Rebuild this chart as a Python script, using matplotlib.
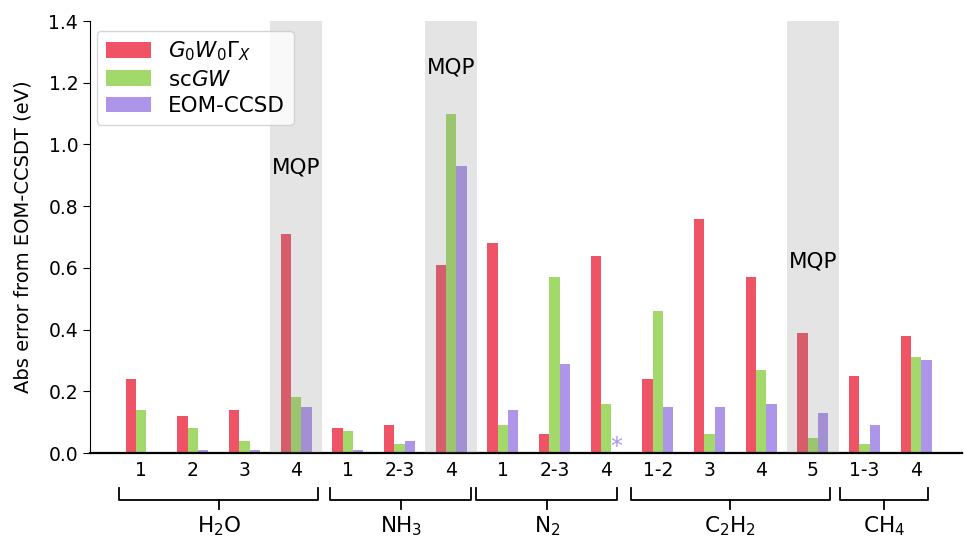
import matplotlib
matplotlib.use("Agg")
import matplotlib.pyplot as plt
import numpy as np
from matplotlib.transforms import blended_transform_factory

# ---- data ----
tick_labels = ["1", "2", "3", "4", "1", "2-3", "4", "1", "2-3", "4",
               "1-2", "3", "4", "5", "1-3", "4"]
g0w0 = [0.24, 0.12, 0.14, 0.71, 0.08, 0.09, 0.61, 0.68, 0.06, 0.64,
        0.24, 0.76, 0.57, 0.39, 0.25, 0.38]
scgw = [0.14, 0.08, 0.04, 0.18, 0.07, 0.03, 1.10, 0.09, 0.57, 0.16,
        0.46, 0.06, 0.27, 0.05, 0.03, 0.31]
eom = [0.0, 0.01, 0.01, 0.15, 0.01, 0.04, 0.93, 0.14, 0.29, np.nan,
       0.15, 0.15, 0.16, 0.13, 0.09, 0.30]
series_labels = [r"$G_0W_0\Gamma_X$", r"sc$GW$", "EOM-CCSD"]
molecules = [r"H$_2$O", r"NH$_3$", r"N$_2$", r"C$_2$H$_2$", r"CH$_4$"]
mqp_index = [3, 6, 13]
mqp_text_y = [0.925, 1.25, 0.62]
missing_marker_y = 0.018
# bracket layout (x-centre, width in group units)
bracket_center = [1.5, 5.02, 7.85, 11.4, 14.38]
bracket_width = [3.85, 2.72, 2.74, 3.85, 1.72]

colors = ["#ee5466", "#a3d86b", "#ad95ea"]

fig = plt.figure(figsize=(9.64, 5.42), dpi=100)
ax = fig.add_axes([0.0934, 0.1642, 0.9046, 0.797])

x = np.arange(len(tick_labels))
w = 0.2
for k, (vals, c, lab) in enumerate(zip([g0w0, scgw, eom], colors, series_labels)):
    ax.bar(x + (k - 1) * w, vals, width=w, color=c, label=lab, zorder=2)

# missing value marker
i_nan = int(np.where(np.isnan(eom))[0][0])
ax.text(i_nan + w, missing_marker_y, "*", color=colors[2], ha="center",
        va="center", fontsize=17, zorder=3)

for i, ty in zip(mqp_index, mqp_text_y):
    ax.axvspan(i - 0.5, i + 0.5, color="grey", alpha=0.21, lw=0, zorder=3)
    ax.text(i, ty, "MQP", ha="center", va="center", fontsize=15.5, zorder=4)

ax.set_xlim(-0.99, 15.89)
ax.set_ylim(0, 1.4)
ax.set_yticks(np.arange(0, 1.41, 0.2))
ax.set_yticklabels([f"{v:.1f}" for v in np.arange(0, 1.41, 0.2)], fontsize=13.5)
ax.set_xticks(x)
ax.set_xticklabels(tick_labels, fontsize=13.5)
ax.tick_params(axis="x", length=0, pad=6)
ax.tick_params(axis="y", length=5)
ax.set_ylabel("Abs error from EOM-CCSDT (eV)", fontsize=14)
ax.yaxis.set_label_coords(-0.066, 0.5)
ax.spines["top"].set_visible(False)
ax.spines["right"].set_visible(False)
ax.spines["bottom"].set_linewidth(1.6)

trans = blended_transform_factory(ax.transData, fig.transFigure)
def fy(py):
    return 1 - py / 542
for c, wd, name in zip(bracket_center, bracket_width, molecules):
    l, r = c - wd / 2, c + wd / 2
    kw = dict(color="black", lw=1.3, transform=trans, clip_on=False)
    ax.plot([l, l, r, r], [fy(488), fy(500), fy(500), fy(488)], **kw)
    ax.plot([c, c], [fy(500), fy(509)], **kw)
    ax.text(c, fy(526), name, transform=trans, ha="center", va="center", fontsize=15.5)

leg = ax.legend(loc="upper left", fontsize=15.5, handlelength=2.1,
                handleheight=0.75, borderpad=0.4, labelspacing=0.3,
                handletextpad=0.8, borderaxespad=0.0,
                bbox_to_anchor=(0.008, 0.977))
leg.set_zorder(10)

fig.savefig("out.png", dpi=100)
